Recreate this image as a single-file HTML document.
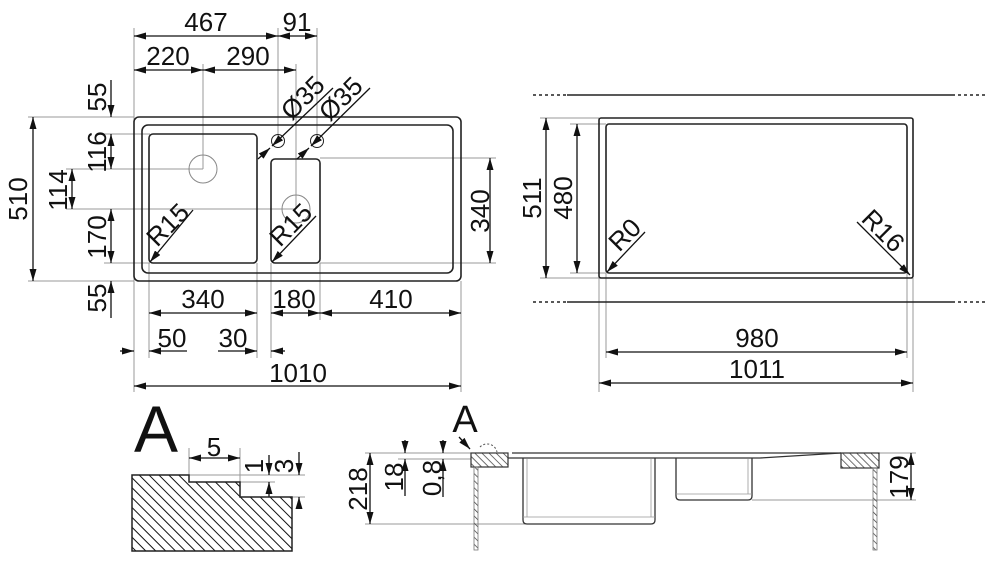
<!DOCTYPE html>
<html><head><meta charset="utf-8"><style>
html,body{margin:0;padding:0;background:#fff;}
svg{display:block;}
text{font-family:"Liberation Sans",sans-serif;font-size:26px;fill:#111;}
</style></head><body>
<svg width="1000" height="566" viewBox="0 0 1000 566" xmlns="http://www.w3.org/2000/svg">
<defs>
<marker id="a" viewBox="0 0 12 7" refX="12" refY="3.5" markerWidth="12" markerHeight="7" markerUnits="userSpaceOnUse" orient="auto-start-reverse"><path d="M0,0L12,3.5L0,7z" fill="#111"/></marker>
<pattern id="h" width="7" height="7" patternUnits="userSpaceOnUse" patternTransform="rotate(-45)"><line x1="0" y1="0" x2="0" y2="7" stroke="#111" stroke-width="2"/></pattern>
<pattern id="h2" width="5" height="5" patternUnits="userSpaceOnUse" patternTransform="rotate(-45)"><line x1="0" y1="0" x2="0" y2="5" stroke="#333" stroke-width="1.4"/></pattern>
</defs>
<g fill="none" stroke="#999" stroke-width="1">
<line x1="134" y1="28" x2="134" y2="392"/>
<line x1="278" y1="28" x2="278" y2="141"/>
<line x1="317" y1="28" x2="317" y2="141"/>
<line x1="203" y1="64" x2="203" y2="169"/>
<line x1="296" y1="64" x2="296" y2="209"/>
<line x1="28" y1="117" x2="134" y2="117"/>
<line x1="28" y1="281" x2="134" y2="281"/>
<line x1="104" y1="134" x2="150" y2="134"/>
<line x1="66" y1="169" x2="203" y2="169"/>
<line x1="66" y1="209" x2="296" y2="209"/>
<line x1="104" y1="263" x2="150" y2="263"/>
<line x1="320" y1="158" x2="496" y2="158"/>
<line x1="320" y1="263" x2="496" y2="263"/>
<line x1="149" y1="263" x2="149" y2="358"/>
<line x1="257" y1="263" x2="257" y2="358"/>
<line x1="271" y1="263" x2="271" y2="358"/>
<line x1="320" y1="263" x2="320" y2="320"/>
<line x1="461" y1="281" x2="461" y2="392"/>
<line x1="599" y1="278" x2="599" y2="392"/>
<line x1="913" y1="278" x2="913" y2="392"/>
<line x1="606" y1="273" x2="606" y2="358"/>
<line x1="907" y1="273" x2="907" y2="358"/>
<line x1="540" y1="118" x2="599" y2="118"/>
<line x1="540" y1="278" x2="599" y2="278"/>
<line x1="570" y1="124" x2="606" y2="124"/>
<line x1="570" y1="273" x2="606" y2="273"/>
<line x1="365" y1="453" x2="471" y2="453"/>
<line x1="398" y1="459" x2="471" y2="459"/>
<line x1="365" y1="524" x2="525" y2="524"/>
<line x1="752" y1="500" x2="916" y2="500"/>
<line x1="879" y1="453" x2="916" y2="453"/>
<line x1="189" y1="448" x2="189" y2="475"/>
<line x1="240" y1="448" x2="240" y2="482"/>
<line x1="189" y1="475" x2="305" y2="475"/>
<line x1="240" y1="482" x2="275" y2="482"/>
<line x1="292" y1="497" x2="305" y2="497"/>
</g>
<g fill="none" stroke="#222" stroke-width="1.6">
<rect x="134" y="117" width="327" height="164" rx="5"/>
<rect x="142" y="125" width="311" height="148" rx="6"/>
<rect x="149" y="134" width="108" height="129" rx="4"/>
<rect x="271" y="159" width="49" height="104" rx="4"/>
<rect x="599" y="118" width="314" height="160" rx="2"/>
<rect x="606" y="124" width="301" height="149" rx="3"/>
</g>
<g fill="none" stroke="#888" stroke-width="1">
<circle cx="203" cy="169" r="14"/>
<circle cx="296" cy="209" r="14"/>
<circle cx="278" cy="141" r="6.5" stroke="#222"/>
<circle cx="317" cy="141" r="6.5" stroke="#222"/>
</g>
<g stroke="#222" stroke-width="1.4">
<line x1="533" y1="95" x2="567" y2="95" stroke-dasharray="3,3"/>
<line x1="567" y1="95" x2="952" y2="95"/>
<line x1="952" y1="95" x2="985" y2="95" stroke-dasharray="3,3"/>
<line x1="533" y1="302" x2="567" y2="302" stroke-dasharray="3,3"/>
<line x1="567" y1="302" x2="952" y2="302"/>
<line x1="952" y1="302" x2="985" y2="302" stroke-dasharray="3,3"/>
</g>
<g stroke="#111" stroke-width="1.3" fill="none">
<line x1="134" y1="36" x2="278" y2="36" marker-start="url(#a)" marker-end="url(#a)"/>
<line x1="278" y1="36" x2="317" y2="36" marker-start="url(#a)" marker-end="url(#a)"/>
<line x1="134" y1="70" x2="203" y2="70" marker-start="url(#a)" marker-end="url(#a)"/>
<line x1="203" y1="70" x2="296" y2="70" marker-start="url(#a)" marker-end="url(#a)"/>
<line x1="111" y1="80" x2="111" y2="117" marker-end="url(#a)"/>
<line x1="111" y1="134" x2="111" y2="169" marker-start="url(#a)" marker-end="url(#a)"/>
<line x1="111" y1="209" x2="111" y2="263" marker-start="url(#a)" marker-end="url(#a)"/>
<line x1="111" y1="318" x2="111" y2="281" marker-end="url(#a)"/>
<line x1="72" y1="169" x2="72" y2="209" marker-start="url(#a)" marker-end="url(#a)"/>
<line x1="33" y1="117" x2="33" y2="281" marker-start="url(#a)" marker-end="url(#a)"/>
<line x1="490" y1="158" x2="490" y2="263" marker-start="url(#a)" marker-end="url(#a)"/>
<line x1="149" y1="313" x2="257" y2="313" marker-start="url(#a)" marker-end="url(#a)"/>
<line x1="271" y1="313" x2="320" y2="313" marker-start="url(#a)" marker-end="url(#a)"/>
<line x1="320" y1="313" x2="461" y2="313" marker-start="url(#a)" marker-end="url(#a)"/>
<line x1="120" y1="351" x2="134" y2="351" marker-end="url(#a)"/>
<line x1="187" y1="351" x2="149" y2="351" marker-end="url(#a)"/>
<line x1="218" y1="351" x2="257" y2="351" marker-end="url(#a)"/>
<line x1="285" y1="351" x2="271" y2="351" marker-end="url(#a)"/>
<line x1="134" y1="386" x2="461" y2="386" marker-start="url(#a)" marker-end="url(#a)"/>
<line x1="333" y1="88" x2="272" y2="146" marker-end="url(#a)"/>
<line x1="258" y1="159" x2="270" y2="148" marker-end="url(#a)"/>
<line x1="370" y1="88" x2="311" y2="146" marker-end="url(#a)"/>
<line x1="297" y1="159" x2="309" y2="148" marker-end="url(#a)"/>
<line x1="193" y1="210" x2="150" y2="262" marker-end="url(#a)"/>
<line x1="316" y1="216" x2="272" y2="262" marker-end="url(#a)"/>
<line x1="546" y1="118" x2="546" y2="278" marker-start="url(#a)" marker-end="url(#a)"/>
<line x1="577" y1="124" x2="577" y2="273" marker-start="url(#a)" marker-end="url(#a)"/>
<line x1="606" y1="352" x2="907" y2="352" marker-start="url(#a)" marker-end="url(#a)"/>
<line x1="599" y1="383" x2="913" y2="383" marker-start="url(#a)" marker-end="url(#a)"/>
<line x1="645" y1="232" x2="607" y2="272" marker-end="url(#a)"/>
<line x1="857" y1="222" x2="910" y2="275" marker-end="url(#a)"/>
<line x1="370" y1="453" x2="370" y2="524" marker-start="url(#a)" marker-end="url(#a)"/>
<line x1="405" y1="440" x2="405" y2="453" marker-end="url(#a)"/>
<line x1="405" y1="496" x2="405" y2="459" marker-end="url(#a)"/>
<line x1="443" y1="440" x2="443" y2="453" marker-end="url(#a)"/>
<line x1="443" y1="497" x2="443" y2="459" marker-end="url(#a)"/>
<line x1="911" y1="453" x2="911" y2="500" marker-start="url(#a)" marker-end="url(#a)"/>
<line x1="459" y1="437" x2="470" y2="449" marker-end="url(#a)"/>
<line x1="189" y1="458" x2="240" y2="458" marker-start="url(#a)" marker-end="url(#a)"/>
<line x1="269" y1="455" x2="269" y2="475" marker-end="url(#a)"/>
<line x1="269" y1="497" x2="269" y2="482" marker-end="url(#a)"/>
<line x1="299" y1="452" x2="299" y2="475" marker-end="url(#a)"/>
<line x1="299" y1="509" x2="299" y2="497" marker-end="url(#a)"/>
</g>
<path d="M480,447 A10,10 0 0 1 497,452" fill="none" stroke="#555" stroke-width="1" stroke-dasharray="2,2"/>
<rect x="471" y="453" width="37" height="14" fill="url(#h2)" stroke="#333" stroke-width="1.2"/>
<rect x="474" y="467" width="4" height="83" fill="url(#h2)" stroke="#777" stroke-width="0.8"/>
<rect x="841" y="453" width="38" height="15" fill="url(#h2)" stroke="#333" stroke-width="1.2"/>
<rect x="873" y="468" width="4" height="82" fill="url(#h2)" stroke="#777" stroke-width="0.8"/>
<g fill="none" stroke="#333" stroke-width="1.3">
<line x1="512" y1="453" x2="841" y2="453"/>
<path d="M508,458 L512,458 L760,458 L841,453"/>
<path d="M523,458 L523,520 Q523,524 527,524 L651,524 Q655,524 655,520 L655,458"/>
<path d="M676,458 L676,496 Q676,500 680,500 L748,500 Q752,500 752,496 L752,458"/>
</g>
<g stroke="#999" stroke-width="0.8" fill="none">
<line x1="527" y1="459" x2="527" y2="517"/><line x1="651" y1="459" x2="651" y2="517"/>
<line x1="523" y1="517" x2="655" y2="517"/>
<line x1="748" y1="459" x2="748" y2="494"/><line x1="676" y1="494" x2="752" y2="494"/>
</g>
<path d="M132,475 L189,475 L189,482 L240,482 L240,497 L292,497 L292,551 L132,551 Z" fill="url(#h)" stroke="#222" stroke-width="1.5"/>
<text x="206" y="31" text-anchor="middle">467</text>
<text x="297" y="31" text-anchor="middle">91</text>
<text x="168" y="65" text-anchor="middle">220</text>
<text x="248" y="65" text-anchor="middle">290</text>
<text transform="translate(106,97) rotate(-90)" text-anchor="middle">55</text>
<text transform="translate(106,152) rotate(-90)" text-anchor="middle">116</text>
<text transform="translate(106,237) rotate(-90)" text-anchor="middle">170</text>
<text transform="translate(106,298) rotate(-90)" text-anchor="middle">55</text>
<text transform="translate(67,190) rotate(-90)" text-anchor="middle">114</text>
<text transform="translate(27,199) rotate(-90)" text-anchor="middle">510</text>
<text transform="translate(489,211) rotate(-90)" text-anchor="middle">340</text>
<text x="203" y="308" text-anchor="middle">340</text>
<text x="294" y="308" text-anchor="middle">180</text>
<text x="391" y="308" text-anchor="middle">410</text>
<text x="172" y="347" text-anchor="middle">50</text>
<text x="233" y="347" text-anchor="middle">30</text>
<text x="298" y="382" text-anchor="middle">1010</text>
<text transform="translate(309,104) rotate(-45)" text-anchor="middle">Ø35</text>
<text transform="translate(347,105) rotate(-45)" text-anchor="middle">Ø35</text>
<text transform="translate(174,231) rotate(-45)" text-anchor="middle">R15</text>
<text transform="translate(297,231) rotate(-45)" text-anchor="middle">R15</text>
<text transform="translate(541,198) rotate(-90)" text-anchor="middle">511</text>
<text transform="translate(572,198) rotate(-90)" text-anchor="middle">480</text>
<text transform="translate(631,241) rotate(-45)" text-anchor="middle">R0</text>
<text transform="translate(877,237) rotate(45)" text-anchor="middle">R16</text>
<text x="757" y="347" text-anchor="middle">980</text>
<text x="757" y="378" text-anchor="middle">1011</text>
<text transform="translate(367,489) rotate(-90)" text-anchor="middle">218</text>
<text transform="translate(403,477) rotate(-90)" text-anchor="middle">18</text>
<text transform="translate(441,478) rotate(-90)" text-anchor="middle">0,8</text>
<text transform="translate(908,477) rotate(-90)" text-anchor="middle">179</text>
<text x="465" y="432" text-anchor="middle" style="font-size:38px">A</text>
<text x="156" y="452" text-anchor="middle" style="font-size:66px">A</text>
<text x="214" y="456" text-anchor="middle">5</text>
<text transform="translate(263,466) rotate(-90)" text-anchor="middle">1</text>
<text transform="translate(293,466) rotate(-90)" text-anchor="middle">3</text>
</svg>
</body></html>
